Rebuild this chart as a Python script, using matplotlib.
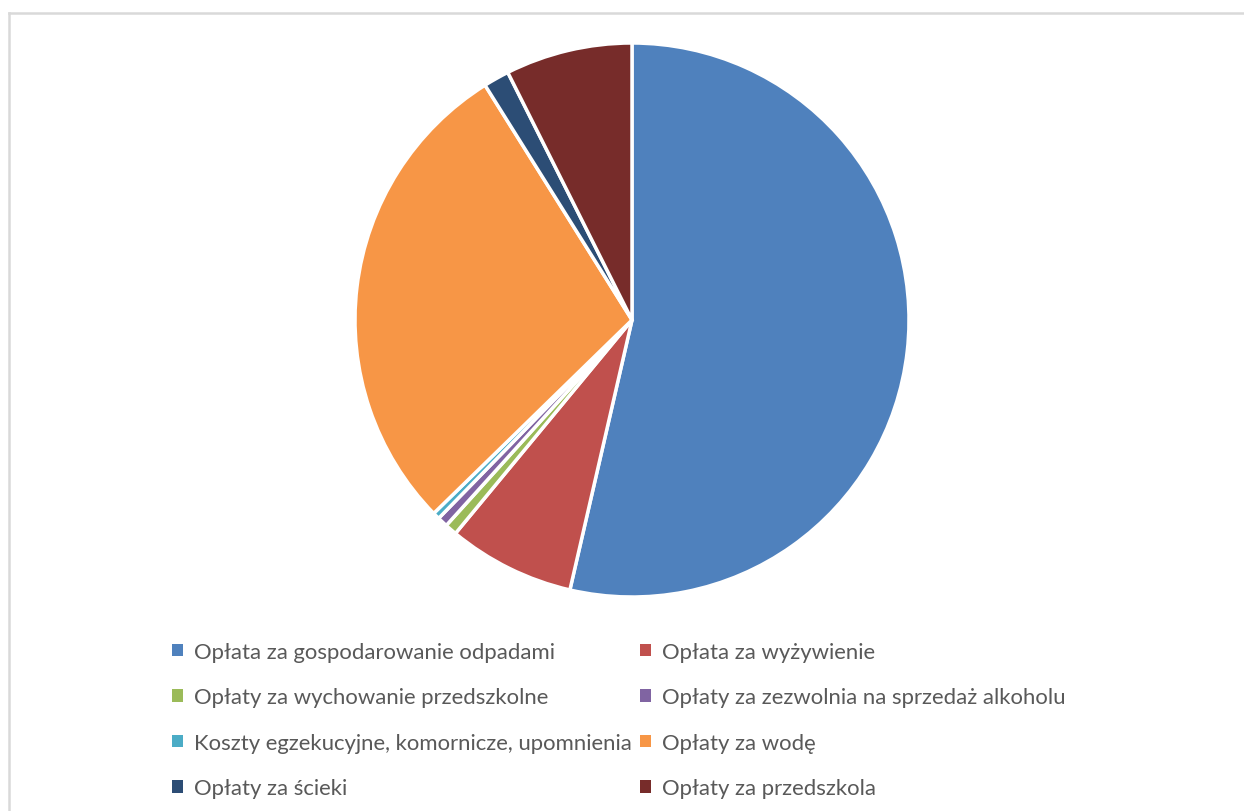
import matplotlib.pyplot as plt
from matplotlib.patches import Patch
from matplotlib.lines import Line2D

# Data (percent shares)
labels = [
    'Opłata za gospodarowanie odpadami',
    'Opłata za wyżywienie',
    'Opłaty za wychowanie przedszkolne',
    'Opłaty za zezwolnia na sprzedaż alkoholu',
    'Koszty egzekucyjne, komornicze, upomnienia',
    'Opłaty za wodę',
    'Opłaty za ścieki',
    'Opłaty za przedszkola',
]
values = [53.6, 7.4, 0.7, 0.6, 0.4, 28.4, 1.5, 7.4]
colors = ['#4F81BD', '#C0504D', '#9BBB59', '#8064A2',
          '#4BACC6', '#F79646', '#2C4D75', '#772C2A']

plt.rcParams['font.family'] = ['Lato', 'DejaVu Sans']

W, H = 1244, 812
fig = plt.figure(figsize=(W / 100, H / 100), dpi=100)

# pie placement (pixels): center (632, 321), radius 277
cx, cy, r = 632, 321, 277
ax = fig.add_axes([(cx - r) / W, 1 - (cy + r) / H, 2 * r / W, 2 * r / H])
ax.pie(values, colors=colors, startangle=90, counterclock=False,
       wedgeprops=dict(edgecolor='white', linewidth=2.5))
ax.set_xlim(-1, 1)
ax.set_ylim(-1, 1)
ax.set_aspect('equal')
ax.axis('off')

# chart frame (top and left edges visible)
fig.add_artist(Line2D([8.5 / W, 8.5 / W], [0, 1 - 13.5 / H],
                      transform=fig.transFigure, color='#D9D9D9', lw=1.8))
fig.add_artist(Line2D([8.5 / W, 1], [1 - 13.5 / H, 1 - 13.5 / H],
                      transform=fig.transFigure, color='#D9D9D9', lw=1.8))

# legend in two columns, row-wise order
order = [0, 2, 4, 6, 1, 3, 5, 7]
handles = [Patch(facecolor=colors[i], edgecolor='none') for i in order]
leg_labels = [labels[i] for i in order]
leg = fig.legend(handles, leg_labels, ncol=2, loc='upper left',
                 bbox_to_anchor=(172 / W, 1 - 643 / H), frameon=False,
                 fontsize=15.9, handlelength=0.5, handleheight=0.5,
                 handletextpad=0.5, columnspacing=0.35, labelspacing=1.15,
                 borderaxespad=0, borderpad=0)
for t in leg.get_texts():
    t.set_color('#595959')

fig.savefig('out.png', dpi=100, facecolor='white')
